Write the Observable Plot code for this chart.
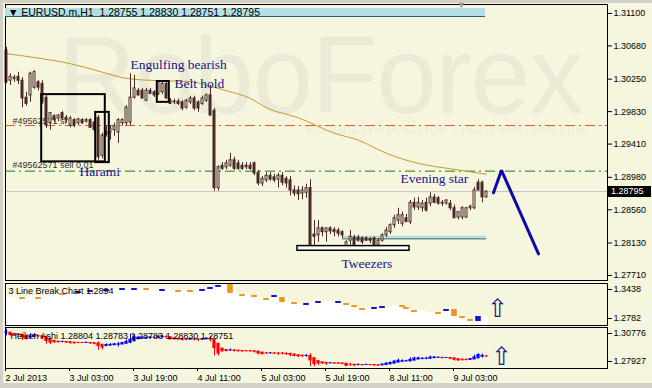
<!DOCTYPE html>
<html><head><meta charset="utf-8">
<script src="https://cdn.jsdelivr.net/npm/d3@7"></script>
<script src="https://cdn.jsdelivr.net/npm/@observablehq/plot@0.6"></script>
<style>
html,body{margin:0;padding:0;background:#D4D0C8;}
#wrap{position:relative;width:652px;height:388px;overflow:hidden;background:#D4D0C8;font-family:"Liberation Sans",Arial,sans-serif;}
#paper{position:absolute;left:3px;top:3px;width:649px;height:380px;background:#F6F6DF;}
#wm{position:absolute;left:58px;top:35px;font-size:110px;line-height:80px;color:#EAEAD6;white-space:nowrap;transform:scaleX(0.98);transform-origin:left top;letter-spacing:-1px;}
#wm2{position:absolute;left:306px;top:124px;font-size:12.5px;line-height:13px;color:#EBEBD8;white-space:nowrap;}
.layer{position:absolute;left:0;width:652px;}
#hdrbox{position:absolute;left:5px;top:8px;width:480px;height:8px;background:#B2DEE8;border-bottom:1px solid #2F5E6A;}
#hdr{position:absolute;left:5px;top:6px;height:12px;font-size:10.5px;line-height:12px;color:#000;white-space:nowrap;}
#shift{position:absolute;left:457px;top:0px;font-size:9px;line-height:10px;color:#9A9A9A;}
#cur{position:absolute;left:608px;width:43px;height:11px;background:#000;color:#fff;font-size:9px;line-height:11px;padding-left:3px;box-sizing:border-box;}
</style></head>
<body>
<div id="wrap">
  <div id="paper"></div>
  <div id="wm">RoboForex</div>
  <div id="wm2">ИСПОЛЬЗУЙ РОБОТОВ – ПОЛУЧАЙ ПРИБЫЛЬ</div>
  <div id="main" class="layer" style="top:0px"></div>
  <div id="p1" class="layer" style="top:282px"></div>
  <div id="p2" class="layer" style="top:326px"></div>
  <div id="hdrbox"></div>
  <div id="hdr">&nbsp;▼&nbsp;EURUSD.m,H1&nbsp; 1.28755 1.28830 1.28751 1.28795</div>
  <div id="shift">▼</div>
  <div id="cur">1.28795</div>
</div>
<script>
// ---------- DATA ----------
const open = [1.3062,1.3023,1.3025,1.3028,1.3023,1.3001,1.3004,1.3014,1.3021,1.3019,
1.3001,1.2968,1.2977,1.2974,1.2981,1.2975,1.2965,1.2972,1.2968,1.2972,
1.2970,1.2972,1.2969,1.2975,1.2926,1.2957,1.2956,1.2959,1.2956,1.2968,
1.2968,1.2969,1.3001,1.3010,1.3010,1.2997,1.3010,1.3008,1.3006,1.3008,
1.3019,1.2997,1.2996,1.2996,1.2995,1.2988,1.2995,1.3000,1.2995,1.2993,
1.2997,1.3004,1.2984,1.2884,1.2913,1.2911,1.2913,1.2920,1.2916,1.2913,
1.2913,1.2913,1.2916,1.2904,1.2890,1.2894,1.2900,1.2898,1.2895,1.2900,
1.2896,1.2894,1.2881,1.2881,1.2877,1.2878,1.2884,1.2824,1.2823,1.2832,
1.2827,1.2832,1.2830,1.2829,1.2827,1.2808,1.2816,1.2820,1.2820,1.2819,
1.2819,1.2818,1.2819,1.2810,1.2816,1.2823,1.2827,1.2836,1.2842,1.2838,
1.2845,1.2840,1.2865,1.2859,1.2858,1.2865,1.2864,1.2872,1.2871,1.2864,
1.2864,1.2864,1.2858,1.2846,1.2846,1.2846,1.2858,1.2858,1.2891,1.2891,
1.2872];
const high = [1.3066,1.3032,1.3030,1.3034,1.3027,1.3008,1.3034,1.3036,1.3023,1.3023,
1.3005,1.2982,1.2979,1.2979,1.2983,1.2978,1.2977,1.2974,1.2974,1.2974,
1.2974,1.2974,1.2973,1.2978,1.2955,1.2964,1.2965,1.2968,1.2974,1.2974,
1.2991,1.3032,1.3030,1.3013,1.3013,1.3013,1.3013,1.3010,1.3022,1.3021,
1.3022,1.3000,1.2999,1.2999,1.2997,1.2999,1.3003,1.3003,1.2997,1.3003,
1.3006,1.3017,1.2987,1.2913,1.2917,1.2920,1.2929,1.2924,1.2920,1.2917,
1.2917,1.2917,1.2918,1.2907,1.2899,1.2904,1.2904,1.2902,1.2903,1.2904,
1.2899,1.2899,1.2887,1.2886,1.2886,1.2889,1.2895,1.2842,1.2842,1.2834,
1.2832,1.2834,1.2833,1.2832,1.2829,1.2816,1.2829,1.2823,1.2823,1.2821,
1.2821,1.2820,1.2821,1.2819,1.2825,1.2833,1.2838,1.2849,1.2858,1.2853,
1.2850,1.2868,1.2871,1.2872,1.2868,1.2871,1.2878,1.2876,1.2873,1.2868,
1.2869,1.2868,1.2862,1.2853,1.2860,1.2859,1.2862,1.2885,1.2895,1.2893,
1.2880];
const low = [1.3019,1.3017,1.3021,1.3018,1.2988,1.2990,1.2995,1.3012,1.3010,1.2992,
1.2961,1.2959,1.2969,1.2970,1.2972,1.2968,1.2962,1.2962,1.2965,1.2966,
1.2968,1.2961,1.2956,1.2920,1.2922,1.2950,1.2946,1.2951,1.2942,1.2964,
1.2965,1.2965,1.2999,1.3003,1.2999,1.2996,1.3005,1.3001,1.3004,1.3005,
1.2999,1.2992,1.2992,1.2991,1.2984,1.2986,1.2992,1.2984,1.2982,1.2991,
1.2995,1.2977,1.2880,1.2880,1.2907,1.2908,1.2911,1.2907,1.2907,1.2907,
1.2908,1.2907,1.2900,1.2887,1.2886,1.2891,1.2893,1.2891,1.2884,1.2887,
1.2884,1.2874,1.2873,1.2868,1.2869,1.2871,1.2806,1.2806,1.2814,1.2821,
1.2814,1.2824,1.2821,1.2821,1.2819,1.2806,1.2807,1.2806,1.2814,1.2811,
1.2815,1.2812,1.2808,1.2807,1.2814,1.2820,1.2824,1.2832,1.2837,1.2834,
1.2840,1.2837,1.2855,1.2855,1.2853,1.2853,1.2860,1.2864,1.2862,1.2860,
1.2862,1.2855,1.2845,1.2843,1.2843,1.2845,1.2855,1.2856,1.2880,1.2865,
1.2871];
const close = [1.3021,1.3028,1.3027,1.3023,1.3000,1.2993,1.3032,1.3034,1.3014,1.2995,
1.2965,1.2981,1.2972,1.2978,1.2974,1.2972,1.2974,1.2965,1.2973,1.2968,
1.2972,1.2962,1.2959,1.2924,1.2952,1.2953,1.2961,1.2964,1.2972,1.2972,
1.2988,1.3001,1.3013,1.3004,1.3000,1.3010,1.3006,1.3004,1.3021,1.3019,
1.3000,1.2993,1.2995,1.2993,1.2987,1.2997,1.3000,1.2987,1.2987,1.3000,
1.3004,1.2978,1.2884,1.2911,1.2909,1.2916,1.2920,1.2909,1.2909,1.2909,
1.2911,1.2909,1.2903,1.2890,1.2896,1.2900,1.2895,1.2894,1.2900,1.2891,
1.2890,1.2881,1.2877,1.2876,1.2881,1.2884,1.2810,1.2821,1.2832,1.2827,
1.2832,1.2828,1.2827,1.2825,1.2823,1.2814,1.2821,1.2807,1.2816,1.2814,
1.2816,1.2816,1.2810,1.2816,1.2823,1.2829,1.2836,1.2845,1.2849,1.2849,
1.2840,1.2865,1.2859,1.2865,1.2864,1.2855,1.2872,1.2865,1.2864,1.2865,
1.2868,1.2858,1.2845,1.2853,1.2858,1.2858,1.2860,1.2881,1.2881,1.2872,
1.28795];

// moving average read at sample bars
const maBar = [0,7,16,24,30,38,46,50,55,61,65,73,82,88,95,103,111,120];
const maVal = [1.3058,1.3053,1.3045,1.3034,1.3026,1.3023,1.3022,1.3017,1.3010,1.3000,1.2988,1.2975,1.2955,1.2946,1.2929,1.2916,1.2909,1.2902];

// levels
const slLevel = 1.2965, orderLevel = 1.2906, lastPrice = 1.28795;
const twLevel = 1.2821, twFrom = 84, twTo = 120;

// pattern boxes
const boxX1 = [8.8, 22.3, 37.7], boxX2 = [24.7, 25.7, 40.7];
const boxHi = [1.3005, 1.2982, 1.3022], boxLo = [1.2918, 1.2917, 1.2995];
const tweezBox = {x1: 72.75, x2: 100.75, hi: 1.2809, lo: 1.2803};

// annotations
const annLabels = ["Engulfing bearish","Belt hold","Harami","Tweezers","Evening star"];
const annBar = [31, 42, 18.25, 83.75, 98.5];
const annPrice = [1.3038, 1.30135, 1.2900, 1.2781, 1.2891];

// forecast arrow
const arrowBar = [121.75, 123.75, 133];
const arrowPrice = [1.2878, 1.2907, 1.2799];

// axis ticks
const priceTicks = [1.311,1.3068,1.3025,1.2983,1.2941,1.2898,1.2856,1.2813,1.2771];
const tickBars = [0,16,32,48,64,80,96,112];
const tickLabels = ["2 Jul 2013","3 Jul 03:00","3 Jul 19:00","4 Jul 11:00","5 Jul 03:00","5 Jul 19:00","8 Jul 11:00","9 Jul 03:00"];

// 3 line break bricks (window scale: 1.2782 .. 1.3438)
const lbBar = [4,8,14,18,21,25,29,32,35,39,43,46,49,51,53,56,59,62,65,67,69,72,75,78,83,85,87,89,92,94,99,100,102,108,110,112,114,116,118];
const lbHi = [1.3219,1.3219,1.3282,1.3313,1.3329,1.3344,1.3360,1.3360,1.3360,1.3344,1.3329,1.3329,1.3344,1.3376,1.3407,1.3422,1.3266,1.3251,1.3204,1.3251,1.3219,1.3141,1.3126,1.3157,1.3157,1.3126,1.3094,1.3048,1.3063,1.3079,1.3094,1.3063,1.3016,1.2985,1.3032,1.3032,1.2923,1.2876,1.2923];
const lbLo = [1.3188,1.3188,1.3251,1.3282,1.3297,1.3313,1.3329,1.3329,1.3329,1.3313,1.3297,1.3297,1.3313,1.3344,1.3376,1.3282,1.3235,1.3219,1.3172,1.3219,1.3141,1.3110,1.3094,1.3126,1.3126,1.3094,1.3063,1.3016,1.3032,1.3048,1.3063,1.3032,1.2985,1.2954,1.3001,1.2923,1.2891,1.2844,1.2844];
const lbUp = [0,0,0,1,1,1,1,1,0,1,0,0,1,1,1,0,0,0,0,1,0,0,1,1,1,0,0,0,1,1,0,0,0,0,1,0,0,0,1];
const lbRange = [1.2782, 1.3438];
const haRange = [1.27927, 1.30776];
const lbTitle = "3 Line Break Chart 1.2894";
const haTitle = "Heiken Ashi 1.28804 1.28783 1.28783 1.28830 1.28751";
const arrowUpBar = [122.75, 123.75];
const arrowUpVal = [1.3032, 1.2876];

// ---------- BUILD ----------
const BG = "#F6F6DF", DARK = "#4A2B28";
const xDomain = [-0.25, 150.25];
const style = {background: "transparent", fontFamily: "'Liberation Sans', Arial, sans-serif", fontSize: "9px", color: "#000", overflow: "visible"};
const candles = close.map((c, i) => ({i, o: open[i], h: high[i], l: low[i], c}));
const ma = maBar.map((b, k) => ({b, v: maVal[k]}));
const boxes = boxX1.map((x1, k) => ({x1, x2: boxX2[k], hi: boxHi[k], lo: boxLo[k]}));
const ann = annLabels.map((t, k) => ({t, b: annBar[k], p: annPrice[k]}));
const arrow = arrowBar.map((b, k) => ({b, p: arrowPrice[k]}));

const main = Plot.plot({
  width: 652, height: 282, marginLeft: 5, marginRight: 45, marginTop: 4, marginBottom: 2,
  style,
  x: {domain: xDomain, axis: null},
  y: {domain: [1.27645, 1.31216], axis: null},
  marks: [
    Plot.ruleY([slLevel], {stroke: "#E0561C", strokeDasharray: "10,4,2,4"}),
    Plot.ruleY([orderLevel], {stroke: "#1E7A1E", strokeDasharray: "10,4,2,4"}),
    Plot.ruleY([lastPrice], {stroke: "#C0C0C0"}),
    Plot.text(["#49562571 sl"], {x: 1.5, y: slLevel, textAnchor: "start", lineAnchor: "bottom", dy: -2, fill: "#303030", fontSize: 9}),
    Plot.text(["#49562571 sell 0.01"], {x: 1.5, y: orderLevel, textAnchor: "start", lineAnchor: "bottom", dy: -3, fill: "#303030", fontSize: 9}),
    Plot.line(ma, {x: "b", y: "v", stroke: "#C49A2C", strokeWidth: 1, curve: "monotone-x"}),
    Plot.ruleY([{y: twLevel, x1: twFrom, x2: twTo}], {y: "y", x1: "x1", x2: "x2", stroke: "#2E5E66", dy: 2}),
    Plot.ruleY([{y: twLevel, x1: twFrom, x2: twTo}], {y: "y", x1: "x1", x2: "x2", stroke: "#A8DCE6", strokeWidth: 2}),
    Plot.ruleX(candles, {x: "i", y1: "l", y2: "h", stroke: DARK}),
    Plot.rect(candles, {x1: d => d.i - 0.25, x2: d => d.i + 0.25, y1: "o", y2: "c", fill: d => d.c < d.o ? DARK : BG, stroke: DARK}),
    Plot.rect(boxes, {x1: "x1", x2: "x2", y1: "lo", y2: "hi", fill: "none", stroke: "#000", strokeWidth: 2}),
    Plot.rect([tweezBox], {x1: "x1", x2: "x2", y1: "lo", y2: "hi", fill: "#fff", stroke: "#000", strokeWidth: 1.5}),
    Plot.text(ann, {x: "b", y: "p", text: "t", textAnchor: "start", lineAnchor: "bottom", fontFamily: "'Liberation Serif', 'Times New Roman', serif", fontSize: 13.5, fill: "#14148A"}),
    Plot.line(arrow, {x: "b", y: "p", stroke: "#0A0AA8", strokeWidth: 3, strokeLinejoin: "miter"}),
    Plot.axisY(priceTicks, {anchor: "right", tickSize: 4, tickPadding: 2, tickFormat: d => d.toFixed(5), fontSize: 9}),
    Plot.frame({stroke: "#000"})
  ]
});
document.getElementById("main").append(main);
const yc = main.scale("y").apply(lastPrice);
document.getElementById("cur").style.top = (yc - 5.5) + "px";

// panel 1: three line break (window max at top, min at bottom)
const bricks = lbBar.map((b, k) => ({b, hi: lbHi[k], lo: lbLo[k], up: lbUp[k]}));
const lbArea = [{b: xDomain[0], hi: lbHi[0]}, ...bricks.map(d => ({b: d.b, hi: d.hi})), {b: close.length - 0.5, hi: lbHi[lbHi.length - 1]}];
const p1 = Plot.plot({
  width: 652, height: 44, marginLeft: 5, marginRight: 45, marginTop: 1, marginBottom: 1,
  style,
  x: {domain: xDomain, axis: null},
  y: {domain: lbRange, axis: null},
  marks: [
    Plot.areaY(lbArea, {x: "b", y1: lbRange[0], y2: "hi", fill: "#fff", curve: "step"}),
    Plot.rect(bricks, {x1: d => d.b - 0.7, x2: d => d.b + 0.7, y1: "lo", y2: "hi", fill: d => d.up ? "#1414C8" : "#F0961E"}),
    Plot.text([lbTitle], {frameAnchor: "top-left", dx: 3, dy: 4, lineAnchor: "top", textAnchor: "start", fontSize: 9, fill: "#000"}),
    Plot.text([{b: arrowUpBar[0], v: arrowUpVal[0]}], {x: "b", y: "v", text: () => "⇧", fontFamily: "'DejaVu Sans', sans-serif", fontSize: 25, fill: "#1C1C80"}),
    Plot.axisY([lbRange[1]], {anchor: "right", tickSize: 4, tickPadding: 2, tickFormat: d => d.toFixed(4), fontSize: 9, dy: 6}),
    Plot.axisY([lbRange[0]], {anchor: "right", tickSize: 4, tickPadding: 2, tickFormat: d => d.toFixed(4), fontSize: 9, dy: -7}),
    Plot.frame({stroke: "#000"})
  ]
});
document.getElementById("p1").append(p1);

// panel 2: Heiken Ashi derived from the candles
const ha = [];
candles.forEach((d, i) => {
  const c = (d.o + d.h + d.l + d.c) / 4;
  const o = i === 0 ? (d.o + d.c) / 2 : (ha[i - 1].o + ha[i - 1].c) / 2;
  ha.push({i, o, c, h: Math.max(d.h, o, c), l: Math.min(d.l, o, c)});
});
const haCol = d => d.c < d.o ? "#FF0000" : "#0000FF";
const p2 = Plot.plot({
  width: 652, height: 62, marginLeft: 5, marginRight: 45, marginTop: 1, marginBottom: 20,
  style,
  x: {domain: xDomain, axis: null},
  y: {domain: haRange, axis: null},
  marks: [
    Plot.ruleX(ha, {x: "i", y1: "l", y2: "h", stroke: haCol}),
    Plot.rect(ha, {x1: d => d.i - 0.4, x2: d => d.i + 0.4, y1: "o", y2: "c", fill: haCol, insetTop: -0.5, insetBottom: -0.5}),
    Plot.text([haTitle], {frameAnchor: "top-left", dx: 5, dy: 5, lineAnchor: "top", textAnchor: "start", fontSize: 9, fill: "#000"}),
    Plot.text([{b: arrowUpBar[1], v: arrowUpVal[1]}], {x: "b", y: "v", text: () => "⇧", fontFamily: "'DejaVu Sans', sans-serif", fontSize: 25, fill: "#1C1C80"}),
    Plot.axisY([haRange[1]], {anchor: "right", tickSize: 4, tickPadding: 2, tickFormat: d => d.toFixed(5), fontSize: 9, dy: 6}),
    Plot.axisY([haRange[0]], {anchor: "right", tickSize: 4, tickPadding: 2, tickFormat: d => d.toFixed(5), fontSize: 9, dy: -7}),
    Plot.axisX(tickBars, {anchor: "bottom", tickSize: 3, tickPadding: 3, textAnchor: "start", dx: -1, fontSize: 9, tickFormat: d => tickLabels[tickBars.indexOf(d)]}),
    Plot.frame({stroke: "#000"})
  ]
});
document.getElementById("p2").append(p2);
</script>
</body></html>
